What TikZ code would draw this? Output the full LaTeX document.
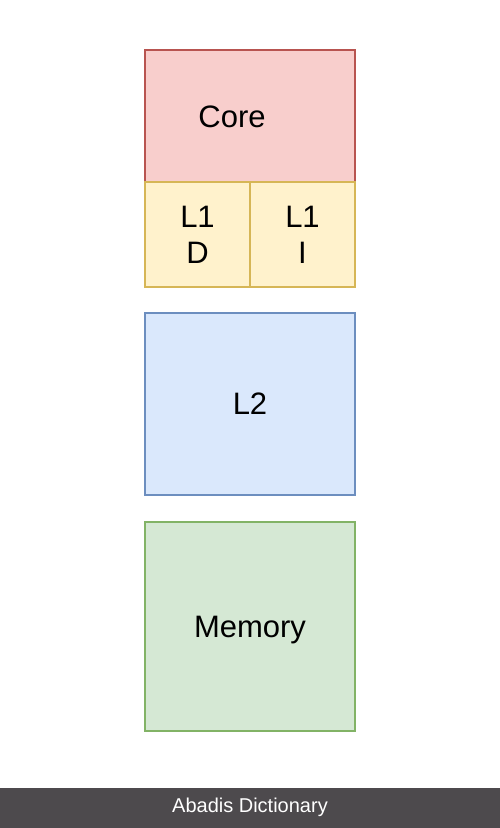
\documentclass[tikz,border=0pt]{standalone}
\usepackage{fontspec}
\setmainfont{Liberation Sans}
\usetikzlibrary{positioning}
\definecolor{corefill}{HTML}{F8CECC}
\definecolor{coredraw}{HTML}{B85450}
\definecolor{lonefill}{HTML}{FFF2CC}
\definecolor{lonedraw}{HTML}{D6B656}
\definecolor{ltwofill}{HTML}{DAE8FC}
\definecolor{ltwodraw}{HTML}{6C8EBF}
\definecolor{memfill}{HTML}{D5E8D4}
\definecolor{memdraw}{HTML}{82B366}
\definecolor{barfill}{HTML}{4D4A4D}

\begin{document}
\begin{tikzpicture}[
    x=1pt, y=-1pt,
    block/.style={
        draw,
        line width=1.2pt,
        inner sep=0pt,
        align=center,
        font=\fontsize{31}{36}\selectfont
    }
]
\useasboundingbox (0,0) rectangle (500,828);
\fill[white] (0,0) rectangle (500,828);

\node[block, fill=corefill, draw=coredraw, minimum width=210pt, minimum height=132pt] (core) at (250,116) {};
\node[font=\fontsize{31}{36}\selectfont, inner sep=0pt] (corelbl) at (232,117) {Core};
\node[block, fill=lonefill, draw=lonedraw, minimum width=105pt, minimum height=105pt] (lone d) at (197.5,234.5) {L1\\D};
\node[block, fill=lonefill, draw=lonedraw, minimum width=105pt, minimum height=105pt] (lone i) at (302.5,234.5) {L1\\I};
\node[block, fill=ltwofill, draw=ltwodraw, minimum width=210pt, minimum height=182pt] (ltwo) at (250,404) {L2};
\node[block, fill=memfill, draw=memdraw, minimum width=210pt, minimum height=209pt, text depth=0pt] (mem) at (250,626.5) {Memory};

% footer
\fill[barfill] (0,788) rectangle (500,828);
\node[text=white, font=\fontsize{20}{24}\selectfont] (footer) at (250,807) {Abadis Dictionary};
\end{tikzpicture}
\end{document}
